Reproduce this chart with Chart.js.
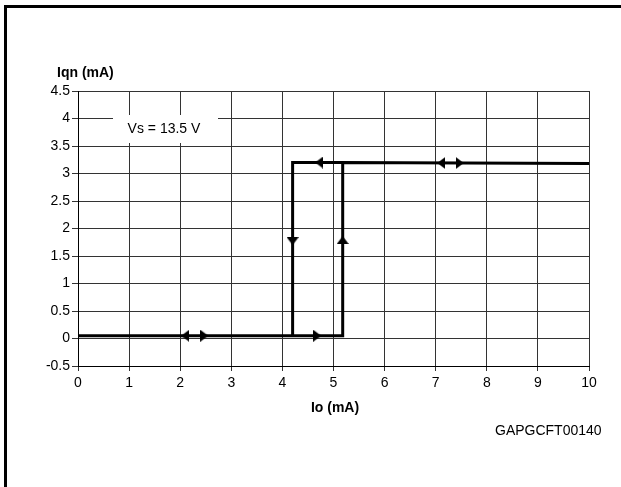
<!DOCTYPE html>
<html><head><meta charset="utf-8">
<script src="https://cdn.jsdelivr.net/npm/chart.js@4/dist/chart.umd.min.js"></script>
<style>
html,body{margin:0;padding:0;background:#fff;}
#wrap{position:absolute;left:0;top:0;width:621px;height:487px;overflow:hidden;}
#frame{position:absolute;left:4px;top:5px;right:-5px;bottom:-5px;border-top:3px solid #000;border-left:3px solid #000;}
canvas{position:absolute;left:0;top:0;}
</style></head><body>
<div id="wrap"><div id="frame"></div><canvas id="c" width="621" height="487"></canvas></div>
<script>
// ---- data ----
const xTickValues = [0,1,2,3,4,5,6,7,8,9,10];
const yTickValues = [-0.5,0,0.5,1,1.5,2,2.5,3,3.5,4,4.5];
const yTickLabels = ['-0.5','0','0.5','1','1.5','2','2.5','3','3.5','4','4.5'];
// rising branch (Io increasing)
const riseX = [0, 5.18, 5.18, 10];
const riseY = [0.05, 0.05, 3.2, 3.18];
// falling branch (Io decreasing)
const fallX = [5.18, 4.2, 4.2];
const fallY = [3.2, 3.2, 0.05];
// direction arrows (centre positions, direction in degrees: 0 right, 90 down, 180 left, 270 up)
const arrowX = [2.10, 2.47, 4.68, 4.72, 7.11, 7.47, 4.2, 5.18];
const arrowY = [0.05, 0.05, 0.05, 3.2, 3.19, 3.19, 1.77, 1.79];
const arrowDir = [180, 0, 0, 180, 180, 0, 90, 270];
const axisTitleY = 'Iqn (mA)';
const axisTitleX = 'Io (mA)';
const noteText = 'Vs = 13.5 V';
const codeText = 'GAPGCFT00140';

const FONT = '"Liberation Sans", Arial, Helvetica, sans-serif';

// arrow head image (pointing right)
const arrowImg = document.createElement('canvas');
arrowImg.width = 8; arrowImg.height = 12;
(function(){
  const g = arrowImg.getContext('2d');
  g.fillStyle = '#000';
  g.beginPath(); g.moveTo(0,0); g.lineTo(8,6); g.lineTo(0,12); g.closePath(); g.fill();
})();

const toPts = (xs, ys) => xs.map((x,i)=>({x:x, y:ys[i]}));

const textPlugin = {
  id: 'texts',
  beforeDatasetsDraw(chart){
    const ctx = chart.ctx;
    ctx.save();
    ctx.fillStyle = '#fff';
    ctx.fillRect(113, 115, 105, 28);
    ctx.fillStyle = '#000';
    ctx.font = '14px ' + FONT;
    ctx.textAlign = 'center';
    ctx.textBaseline = 'middle';
    ctx.fillText(noteText, 164, 129.5);
    ctx.restore();
  },
  afterDraw(chart){
    const ctx = chart.ctx;
    ctx.save();
    ctx.fillStyle = '#000';
    ctx.textBaseline = 'middle';
    ctx.font = 'bold 14px ' + FONT;
    ctx.textAlign = 'left';
    ctx.fillText(axisTitleY, 57, 73.5);
    ctx.textAlign = 'center';
    ctx.fillText(axisTitleX, 335, 408);
    ctx.font = '14px ' + FONT;
    ctx.textAlign = 'left';
    ctx.fillText(codeText, 495, 431);
    ctx.restore();
  }
};

new Chart(document.getElementById('c'), {
  type: 'scatter',
  data: {
    datasets: [
      { data: toPts(riseX, riseY), showLine: true, borderColor: '#000', borderWidth: 3, pointRadius: 0, fill: false, tension: 0 },
      { data: toPts(fallX, fallY), showLine: true, borderColor: '#000', borderWidth: 3, pointRadius: 0, fill: false, tension: 0 },
      { data: toPts(arrowX, arrowY), showLine: false, pointStyle: arrowImg, pointRotation: arrowDir, pointRadius: 6, backgroundColor: '#000', borderColor: '#000' }
    ]
  },
  options: {
    responsive: false,
    animation: false,
    events: [],
    layout: { padding: { left: 0, right: 32, top: 91, bottom: 0 } },
    plugins: { legend: { display: false }, tooltip: { enabled: false } },
    scales: {
      x: {
        type: 'linear', min: 0, max: 10,
        afterFit(s){ s.height = 121; },
        afterBuildTicks(s){ s.ticks = xTickValues.map(v=>({value:v})); },
        ticks: { color: '#000', font: { family: FONT, size: 14 }, padding: 4, maxRotation: 0, callback: v => String(v) },
        grid: { color: '#333', lineWidth: 1, tickLength: 5, drawTicks: true },
        border: { display: true, color: '#000', width: 1 }
      },
      y: {
        type: 'linear', min: -0.5, max: 4.5,
        afterFit(s){ s.width = 78; },
        afterBuildTicks(s){ s.ticks = yTickValues.map(v=>({value:v})); },
        ticks: { color: '#000', font: { family: FONT, size: 14 }, padding: 2,
          callback: (v) => { const i = yTickValues.indexOf(v); return i >= 0 ? yTickLabels[i] : ''; } },
        grid: { color: '#333', lineWidth: 1, tickLength: 6, drawTicks: true },
        border: { display: true, color: '#000', width: 1 }
      }
    }
  },
  plugins: [textPlugin]
});
</script>
</body></html>
